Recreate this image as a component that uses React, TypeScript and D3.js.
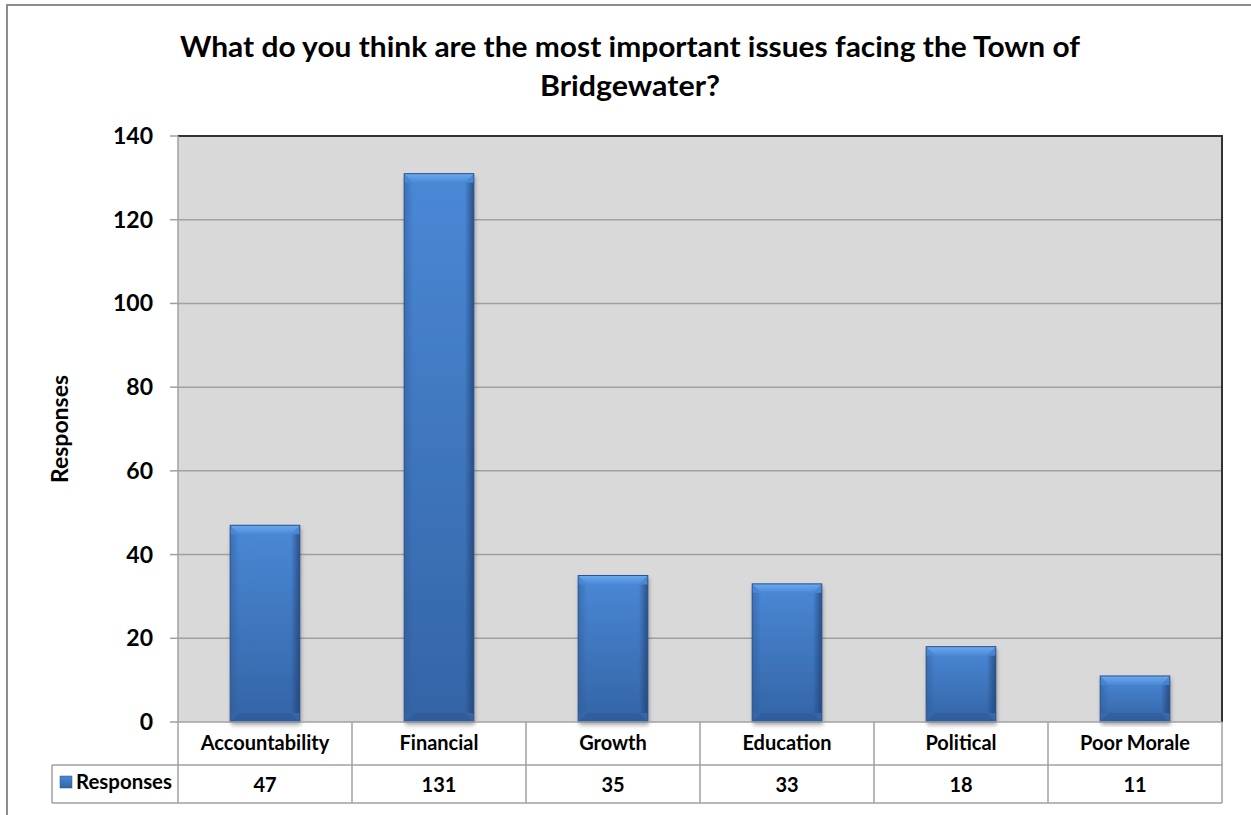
import React from "react";
import * as d3 from "d3";

const categories = ["Accountability", "Financial", "Growth", "Education", "Political", "Poor Morale"];
const responses = [47, 131, 35, 33, 18, 11];
const yTicks = [0, 20, 40, 60, 80, 100, 120, 140];
const titleLines = ["What do you think are the most important issues facing the Town of", "Bridgewater?"];
const seriesName = "Responses";
const axisTitle = "Responses";

const W = 1251, H = 815;
const plot = { left: 178, right: 1222, top: 136, bottom: 722 };
const tableRow1 = 765, tableBottom = 803, tableLeft = 52;
const FONT = "Lato, 'Open Sans', sans-serif";
const titleWidths = [900, 180];

export default function App() {
  const x = d3.scaleBand<string>().domain(categories).range([plot.left, plot.right]).paddingInner(0.6).paddingOuter(0.3);
  const xCell = d3.scaleBand<string>().domain(categories).range([plot.left, plot.right]);
  const y = d3.scaleLinear().domain([0, 140]).range([plot.bottom, plot.top]);
  const bw = x.bandwidth();
  const bev = 9;
  return (
    <svg width={W} height={H} style={{ position: "absolute", left: 0, top: 0, fontFamily: FONT }}>
      <defs>
        <linearGradient id="barGrad" x1="0" y1="0" x2="0" y2="1">
          <stop offset="0" stopColor="#4a88d6" />
          <stop offset="1" stopColor="#3464a6" />
        </linearGradient>
        <linearGradient id="topBev" x1="0" y1="0" x2="0" y2="1">
          <stop offset="0" stopColor="#6aaaf0" />
          <stop offset="1" stopColor="#4a88d6" />
        </linearGradient>
        <linearGradient id="sideL" x1="0" y1="0" x2="1" y2="0">
          <stop offset="0" stopColor="#2d5a96" stopOpacity="0.5" />
          <stop offset="1" stopColor="#2d5a96" stopOpacity="0" />
        </linearGradient>
        <linearGradient id="sideR" x1="1" y1="0" x2="0" y2="0">
          <stop offset="0" stopColor="#1f3f70" stopOpacity="0.75" />
          <stop offset="1" stopColor="#1f3f70" stopOpacity="0" />
        </linearGradient>
        <filter id="shadow" x="-20%" y="-5%" width="140%" height="115%">
          <feDropShadow dx="1" dy="3" stdDeviation="2" floodColor="#000" floodOpacity="0.35" />
        </filter>
      </defs>
      <rect x={0} y={0} width={W} height={H} fill="#fff" />
      {/* outer frame */}
      <path d={`M7,${H} V5 H${W}`} fill="none" stroke="#8c8c8c" strokeWidth={2} />
      {/* title */}
      {titleLines.map((t, i) => (
        <text key={i} x={630} y={57 + i * 39} textAnchor="middle" fontSize={29} fontWeight="bold" fill="#000"
          textLength={titleWidths[i]} lengthAdjust="spacingAndGlyphs">{t}</text>
      ))}
      {/* plot background */}
      <rect x={plot.left} y={plot.top} width={plot.right - plot.left} height={plot.bottom - plot.top} fill="#d9d9d9" />
      {yTicks.filter(t => t > 0 && t < 140).map(t => (
        <line key={t} x1={plot.left} x2={plot.right} y1={y(t)} y2={y(t)} stroke="#a0a0a0" strokeWidth={1.5} />
      ))}
      <path d={`M${plot.left},${plot.top} H${plot.right} V${plot.bottom}`} fill="none" stroke="#333" strokeWidth={2} />
      {/* y axis */}
      <line x1={plot.left} x2={plot.left} y1={plot.top} y2={plot.bottom} stroke="#a0a0a0" strokeWidth={1.5} />
      {yTicks.map(t => (
        <g key={t}>
          <line x1={170} x2={plot.left} y1={y(t)} y2={y(t)} stroke="#a0a0a0" strokeWidth={1.5} />
          <text x={153} y={y(t) + 8} textAnchor="end" fontSize={23} fontWeight="bold" fill="#000">{t}</text>
        </g>
      ))}
      <text transform={`translate(68,${(plot.top + plot.bottom) / 2}) rotate(-90)`} textAnchor="middle" fontSize={23} fontWeight="bold" fill="#000">{axisTitle}</text>
      {/* bars */}
      {categories.map((c, i) => {
        const x0 = x(c)!;
        const y0 = y(responses[i]);
        const h = plot.bottom - y0;
        return (
          <g key={c}>
            <rect x={x0} y={y0} width={bw} height={h} fill="url(#barGrad)" filter="url(#shadow)" />
            <polygon points={`${x0},${y0} ${x0 + bw},${y0} ${x0 + bw - bev},${y0 + bev} ${x0 + bev},${y0 + bev}`} fill="url(#topBev)" />
            <rect x={x0} y={y0 + bev} width={bev} height={Math.max(0, h - 2 * bev)} fill="url(#sideL)" />
            <rect x={x0 + bw - bev} y={y0 + bev} width={bev} height={Math.max(0, h - 2 * bev)} fill="url(#sideR)" />
            <polygon points={`${x0},${plot.bottom} ${x0 + bw},${plot.bottom} ${x0 + bw - bev},${plot.bottom - bev} ${x0 + bev},${plot.bottom - bev}`} fill="#2a5290" opacity={0.4} />
            <rect x={x0} y={y0} width={bw} height={h} fill="none" stroke="#2a5290" strokeWidth={1} />
          </g>
        );
      })}
      {/* data table */}
      <g stroke="#a0a0a0" strokeWidth={1.5} fill="none">
        <line x1={plot.left} x2={plot.right} y1={plot.bottom} y2={plot.bottom} />
        <line x1={tableLeft} x2={plot.right} y1={tableRow1} y2={tableRow1} />
        <line x1={tableLeft} x2={plot.right} y1={tableBottom} y2={tableBottom} />
        <line x1={tableLeft} x2={tableLeft} y1={tableRow1} y2={tableBottom} />
        {categories.map(c => (
          <line key={c} x1={xCell(c)!} x2={xCell(c)!} y1={plot.bottom} y2={tableBottom} />
        ))}
        <line x1={plot.right} x2={plot.right} y1={plot.bottom} y2={tableBottom} />
      </g>
      {categories.map((c, i) => (
        <g key={c}>
          <text x={xCell(c)! + xCell.bandwidth() / 2} y={750} textAnchor="middle" fontSize={20} fontWeight="bold" fill="#000">{c}</text>
          <text x={xCell(c)! + xCell.bandwidth() / 2} y={792} textAnchor="middle" fontSize={20} fontWeight="bold" fill="#000">{responses[i]}</text>
        </g>
      ))}
      <rect x={60} y={776} width={12} height={12} fill="url(#barGrad)" stroke="#2a5290" strokeWidth={0.5} />
      <text x={76} y={789} fontSize={20} fontWeight="bold" fill="#000" textLength={96} lengthAdjust="spacingAndGlyphs">{seriesName}</text>
    </svg>
  );
}
